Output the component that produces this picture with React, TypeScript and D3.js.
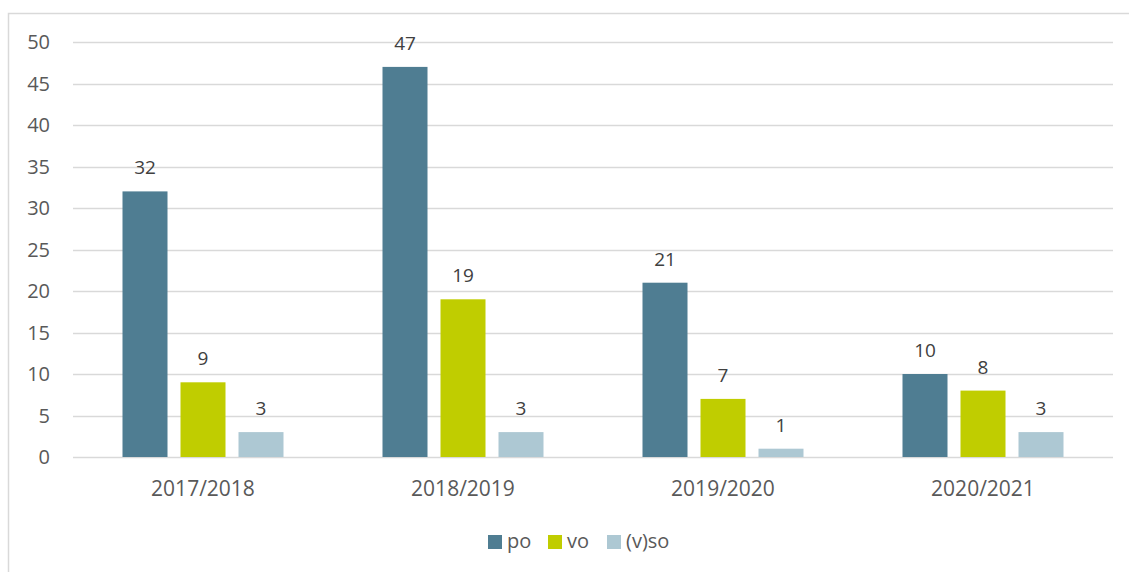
import React, { useEffect, useRef } from 'react';
import * as d3 from 'd3';

// school years and counts per type
const years = ['2017/2018', '2018/2019', '2019/2020', '2020/2021'];
const seriesNames = ['po', 'vo', '(v)so'];
const po = [32, 47, 21, 10];
const vo = [9, 19, 7, 8];
const vso = [3, 3, 1, 3];
const yTicks = [0, 5, 10, 15, 20, 25, 30, 35, 40, 45, 50];
const colors = ['#4f7d92', '#c0cd00', '#adc8d3'];

const App = () => {
  const ref = useRef<SVGSVGElement>(null);

  useEffect(() => {
    const svg = d3.select(ref.current);
    svg.selectAll('*').remove();
    const font = '"Open Sans", "Noto Sans", sans-serif';
    const text = '#595959';

    // outer frame (cropped on right and bottom)
    svg.append('path')
      .attr('d', 'M8.5,1200 L8.5,13.5 L1200,13.5')
      .attr('fill', 'none')
      .attr('stroke', '#d9d9d9')
      .attr('stroke-width', 1.5);

    const left = 73, right = 1113, top = 42, bottom = 457;
    const x = d3.scaleBand().domain(years).range([left, right]);
    const y = d3.scaleLinear().domain([0, 50]).range([bottom, top]);
    const bw = 45, gap = 13;
    const x1 = d3.scaleOrdinal<string, number>()
      .domain(seriesNames)
      .range(seriesNames.map((_, i) => -(3 * bw + 2 * gap) / 2 + i * (bw + gap)));

    const g = svg.append('g');
    g.selectAll('line.grid').data(yTicks).enter().append('line')
      .attr('x1', left).attr('x2', right)
      .attr('y1', (d) => Math.round(y(d)) + 0.5).attr('y2', (d) => Math.round(y(d)) + 0.5)
      .attr('stroke', '#d9d9d9').attr('stroke-width', 1.5);

    g.selectAll('text.ytick').data(yTicks).enter().append('text')
      .attr('x', 50).attr('y', (d) => y(d))
      .attr('dy', '0.35em')
      .attr('text-anchor', 'end')
      .attr('font-family', font).attr('font-size', 20).attr('fill', text)
      .text((d) => d);

    const all = [po, vo, vso];
    all.forEach((vals, si) => {
      const name = seriesNames[si];
      const data = years.map((yr, i) => ({ yr, v: vals[i] }));
      g.selectAll(`rect.s${si}`).data(data).enter().append('rect')
        .attr('x', (d) => (x(d.yr) as number) + x.bandwidth() / 2 + x1(name))
        .attr('y', (d) => y(d.v))
        .attr('width', bw)
        .attr('height', (d) => y(0) - y(d.v))
        .attr('fill', colors[si]);
      g.selectAll(`text.l${si}`).data(data).enter().append('text')
        .attr('x', (d) => (x(d.yr) as number) + x.bandwidth() / 2 + x1(name) + bw / 2)
        .attr('y', (d) => y(d.v) - 17)
        .attr('text-anchor', 'middle')
        .attr('font-family', font).attr('font-size', 19).attr('fill', '#404040')
        .text((d) => d.v);
    });

    g.selectAll('text.xtick').data(years).enter().append('text')
      .attr('x', (d) => (x(d) as number) + x.bandwidth() / 2)
      .attr('y', 496)
      .attr('text-anchor', 'middle')
      .attr('font-family', font).attr('font-size', 21).attr('fill', text)
      .text((d) => d);

    // legend
    const legendX = [488, 548, 607];
    seriesNames.forEach((name, i) => {
      svg.append('rect')
        .attr('x', legendX[i]).attr('y', 535)
        .attr('width', 14).attr('height', 14)
        .attr('fill', colors[i]);
      svg.append('text')
        .attr('x', legendX[i] + 19).attr('y', 548)
        .attr('font-family', font).attr('font-size', 20).attr('fill', text)
        .text(name);
    });
  }, []);

  return (
    <svg ref={ref} width={1129} height={572}
      style={{ position: 'absolute', left: 0, top: 0, background: '#fff' }} />
  );
};

export default App;
